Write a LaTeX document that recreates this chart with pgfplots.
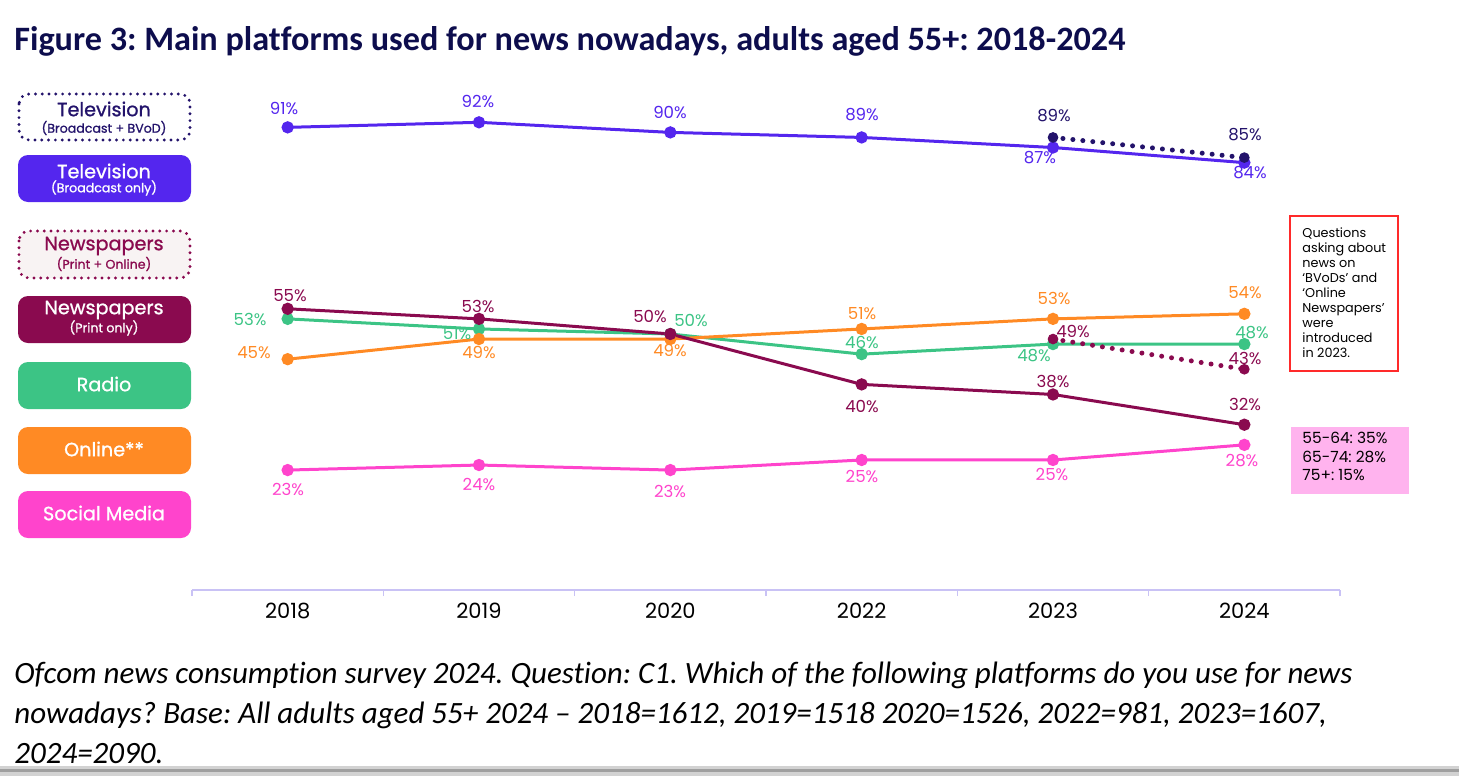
\documentclass[border=0pt]{standalone}
\usepackage{pgfplots}
\pgfplotsset{compat=1.18}
\usepackage{fontspec}
\setmainfont{Poppins}
\newfontfamily\popmed[FakeBold=1]{Poppins}
\newfontfamily\calfont[Ligatures=NoCommon]{Carlito}
\definecolor{tv}{HTML}{5426EE}
\definecolor{tvnavy}{HTML}{23136B}
\definecolor{news}{HTML}{8A0A4F}
\definecolor{radio}{HTML}{3CC485}
\definecolor{online}{HTML}{FF8A24}
\definecolor{social}{HTML}{FF44CC}
\definecolor{axisc}{HTML}{C9C2F5}
\definecolor{titlec}{HTML}{0D0D4D}
\definecolor{newsbg}{HTML}{F8F3F3}
\definecolor{pinkbox}{HTML}{FFB3EE}
\definecolor{redbox}{HTML}{FF2A2A}
\newcommand{\lab}[4]{\node[text=#3,font=\fontsize{8.3}{9}\selectfont,inner sep=0pt] at (#1,#2) {#4};}
\frenchspacing
\begin{document}
\begin{tikzpicture}
\begin{scope}[x=0.5pt,y=-0.5pt]
\path[use as bounding box] (0,0) rectangle (1459,776);
\end{scope}
\begin{axis}[at={(96pt,-295pt)}, anchor=south west, scale only axis,
  width=574pt, height=254pt, xmin=-0.5, xmax=5.5, ymin=-0.8, ymax=100,
  clip=false, axis x line*=bottom, axis y line=none,
  xtick={0,...,5}, xticklabels={2018,2019,2020,2022,2023,2024},
  major tick length=0pt, minor xtick={-0.5,0.5,...,5.5}, minor tick length=3pt,
  tick align=outside,
  x axis line style={color=axisc, line width=0.8pt},
  minor tick style={color=axisc, line width=0.6pt},
  xticklabel style={font=\fontsize{10.5}{12}\selectfont, yshift=-3pt},
  every axis plot/.append style={line width=1.5pt, mark=*, mark size=2.3pt}]
\addplot[social, mark options={fill=social}] coordinates {(0,23)(1,24)(2,23)(3,25)(4,25)(5,28)};
\addplot[radio, mark options={fill=radio}] coordinates {(0,53)(1,51)(2,50)(3,46)(4,48)(5,48)};
\addplot[online, mark options={fill=online}] coordinates {(0,45)(1,49)(2,49)(3,51)(4,53)(5,54)};
\addplot[news, mark options={fill=news}] coordinates {(0,55)(1,53)(2,50)(3,40)(4,38)(5,32)};
\addplot[tv, mark options={fill=tv}] coordinates {(0,91)(1,92)(2,90)(3,89)(4,87)(5,84)};
\addplot[news, line width=2.5pt, line cap=round, dash pattern=on 0pt off 5pt, mark size=2.4pt, mark options={solid, fill=news, line width=0.5pt}] coordinates {(4,49)(5,43)};
\addplot[tvnavy, line width=2.5pt, line cap=round, dash pattern=on 0pt off 5pt, mark size=2.4pt, mark options={solid, fill=tvnavy, line width=0.5pt}] coordinates {(4,89)(5,85)};
\end{axis}
\begin{scope}[x=0.5pt,y=-0.5pt]
% title
\node[anchor=base west, inner sep=0pt, text=titlec, font=\calfont\bfseries\fontsize{17.1}{19}\selectfont] at (14,50) {Figure 3: Main platforms used for news nowadays, adults aged 55+: 2018-2024};
% caption
\begin{scope}[every node/.style={anchor=base west, inner sep=0pt, font=\calfont\itshape\fontsize{15.5}{18}\selectfont}]
\node at (14,683) {Ofcom news consumption survey 2024. Question: C1. Which of the following platforms do you use for news};
\node at (14,723) {nowadays? Base: All adults aged 55+ 2024 – 2018=1612, 2019=1518 2020=1526, 2022=981, 2023=1607,};
\node at (14,763) {2024=2090.};
\end{scope}
\fill[gray!35] (0,766) rectangle (1459,776);
\fill[gray!75] (0,769) rectangle (1459,772);
% legend boxes
\draw[tvnavy, line width=1.6pt, line cap=round, dash pattern=on 0pt off 3.4pt, rounded corners=5] (19,94) rectangle (190,140);
\node[text=tvnavy, font=\popmed\fontsize{9.6}{10}\selectfont] at (104,109) {Television};
\node[text=tvnavy, font=\popmed\fontsize{6.3}{7}\selectfont] at (104,128) {(Broadcast + BVoD)};
\fill[tv, rounded corners=5] (18,155) rectangle (191,202);
\node[text=white, font=\popmed\fontsize{9.6}{10}\selectfont] at (104,171) {Television};
\node[text=white, font=\popmed\fontsize{6.3}{7}\selectfont] at (104,188) {(Broadcast only)};
\draw[news, fill=newsbg, line width=1.6pt, line cap=round, dash pattern=on 0pt off 3.4pt, rounded corners=5] (19,231) rectangle (190,278);
\node[text=news, font=\popmed\fontsize{9.6}{10}\selectfont] at (104,246) {Newspapers};
\node[text=news, font=\popmed\fontsize{6.3}{7}\selectfont] at (104,264) {(Print + Online)};
\fill[news, rounded corners=5] (18,296) rectangle (191,343);
\node[text=white, font=\popmed\fontsize{9.6}{10}\selectfont] at (104,310) {Newspapers};
\node[text=white, font=\popmed\fontsize{6.3}{7}\selectfont] at (104,328) {(Print only)};
\fill[radio, rounded corners=5] (18,362) rectangle (191,409);
\node[text=white, font=\popmed\fontsize{9.6}{10}\selectfont] at (104,384) {Radio};
\fill[online, rounded corners=5] (18,427) rectangle (191,474);
\node[text=white, font=\popmed\fontsize{9.6}{10}\selectfont] at (104,449) {Online**};
\fill[social, rounded corners=5] (18,491) rectangle (191,538);
\node[text=white, font=\popmed\fontsize{9.6}{10}\selectfont] at (104,513) {Social Media};
% data labels
\lab{284}{108}{tv}{91\%}
\lab{478}{101}{tv}{92\%}
\lab{670}{112}{tv}{90\%}
\lab{862}{115}{tv}{89\%}
\lab{1040}{158}{tv}{87\%}
\lab{1250}{173}{tv}{84\%}
\lab{1054}{116}{tvnavy}{89\%}
\lab{1245}{135}{tvnavy}{85\%}
\lab{290}{296}{news}{55\%}
\lab{478}{306}{news}{53\%}
\lab{650}{317}{news}{50\%}
\lab{862}{407}{news}{40\%}
\lab{1053}{382}{news}{38\%}
\lab{1245}{404}{news}{32\%}
\lab{1073}{331}{news}{49\%}
\lab{1245}{358}{news}{43\%}
\lab{250}{319}{radio}{53\%}
\lab{457}{334}{radio}{51\%}
\lab{691}{321}{radio}{50\%}
\lab{862}{342}{radio}{46\%}
\lab{1034}{356}{radio}{48\%}
\lab{1252}{333}{radio}{48\%}
\lab{254}{353}{online}{45\%}
\lab{479}{352}{online}{49\%}
\lab{670}{350}{online}{49\%}
\lab{862}{314}{online}{51\%}
\lab{1054}{298}{online}{53\%}
\lab{1245}{293}{online}{54\%}
\lab{288}{489}{social}{23\%}
\lab{479}{484}{social}{24\%}
\lab{670}{491}{social}{23\%}
\lab{862}{476}{social}{25\%}
\lab{1052}{474}{social}{25\%}
\lab{1242}{461}{social}{28\%}
% annotation boxes
\draw[redbox, line width=1pt] (1290,216) rectangle (1398,371);
\node[anchor=north west, inner sep=0pt, align=left, font=\fontsize{6.4}{7.5}\selectfont] at (1302,227) {Questions\\asking about\\news on\\‘BVoDs’ and\\‘Online\\Newspapers’\\were\\introduced\\in 2023.};
\fill[pinkbox] (1291,427) rectangle (1409,494);
\node[anchor=north west, inner sep=0pt, align=left, font=\fontsize{7.7}{9.25}\selectfont] at (1302,432) {55-64: 35\%\\65-74: 28\%\\75+: 15\%};
\end{scope}
\end{tikzpicture}
\end{document}
